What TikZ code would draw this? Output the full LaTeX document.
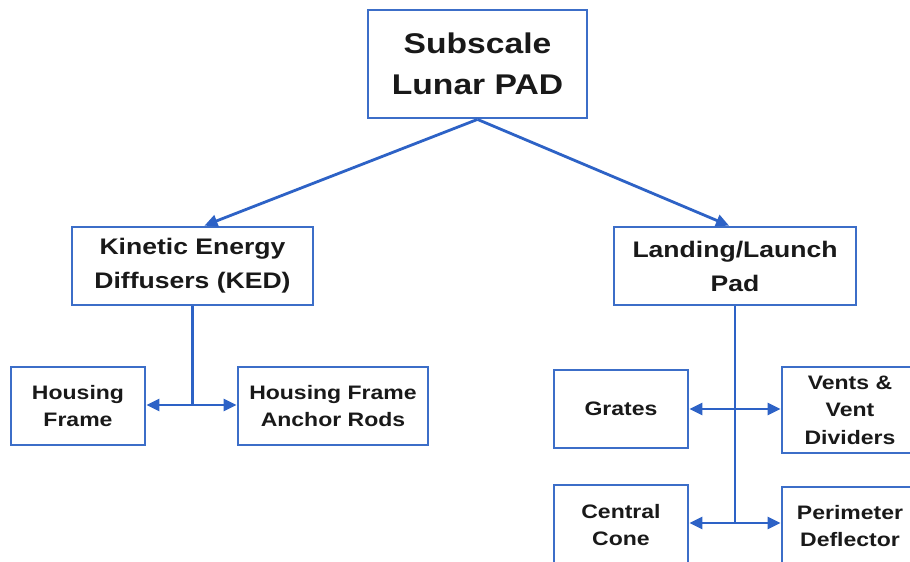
\documentclass[tikz,border=0pt]{standalone}
\usepackage{fontspec}
\setmainfont{Liberation Sans}[FakeStretch=1.18]
\usetikzlibrary{arrows.meta}
\definecolor{boxblue}{RGB}{60,110,200}
\definecolor{lineblue}{RGB}{45,98,198}
\definecolor{txt}{RGB}{25,25,25}
\begin{document}
\begin{tikzpicture}[x=1pt,y=-1pt,
  box/.style={draw=boxblue,line width=2.8pt,fill=white,inner sep=0pt,align=center,text=txt,font=\bfseries},
  topfont/.style={font=\fontsize{28.5}{41}\selectfont\bfseries},
  midfont/.style={font=\fontsize{22.5}{34}\selectfont\bfseries},
  leaffont/.style={font=\fontsize{19.5}{27.5}\selectfont\bfseries},
  conn/.style={draw=lineblue,line width=2.8pt,-{Triangle[length=13pt,width=12pt]}},
  link/.style={draw=lineblue,line width=2.8pt},
  both/.style={draw=lineblue,line width=2.8pt,{Triangle[length=13pt,width=12pt]}-{Triangle[length=13pt,width=12pt]}}]
\clip (0,0) rectangle (910,562);
\fill[white] (0,0) rectangle (910,562);
% top
\node[box,topfont,minimum width=219pt,minimum height=108pt] (top) at (477.5,64) {Subscale\\Lunar PAD};
% level 2
\node[box,midfont,minimum width=241pt,minimum height=78pt] (ked) at (192.5,266) {Kinetic Energy\\Diffusers (KED)};
\node[box,midfont,minimum width=242pt,minimum height=78pt] (pad) at (735,266) {Landing/Launch\\Pad};
% leaves left
\node[box,leaffont,minimum width=134pt,minimum height=78pt] (hf) at (78,406) {Housing\\Frame};
\node[box,leaffont,minimum width=190pt,minimum height=78pt] (hfar) at (333,406) {Housing Frame\\Anchor Rods};
% leaves right
\node[box,leaffont,minimum width=134pt,minimum height=78pt] (gr) at (621,409) {Grates};
\node[box,leaffont,minimum width=136pt,minimum height=86pt] (vd) at (850,410) {Vents \&\\Vent\\Dividers};
\node[box,leaffont,minimum width=134pt,minimum height=80pt] (cc) at (621,525) {Central\\Cone};
\node[box,leaffont,minimum width=136pt,minimum height=78pt] (pd) at (850,526) {Perimeter\\Deflector};
% connectors from top
\draw[conn] (top.south) -- ([xshift=12pt]ked.north);
\draw[conn] (top.south) -- ([xshift=-6pt]pad.north);
% left branch
\coordinate (kj) at (192.5,405);
\draw[link] (ked.south) -- (kj);
\draw[both] (hf.east |- kj) -- (hfar.west |- kj);
% right branch
\coordinate (pj1) at (735,409);
\coordinate (pj2) at (735,523);
\draw[link] (pad.south) -- (pj2);
\draw[both] (gr.east |- pj1) -- (vd.west |- pj1);
\draw[both] (cc.east |- pj2) -- (pd.west |- pj2);
\end{tikzpicture}
\end{document}
